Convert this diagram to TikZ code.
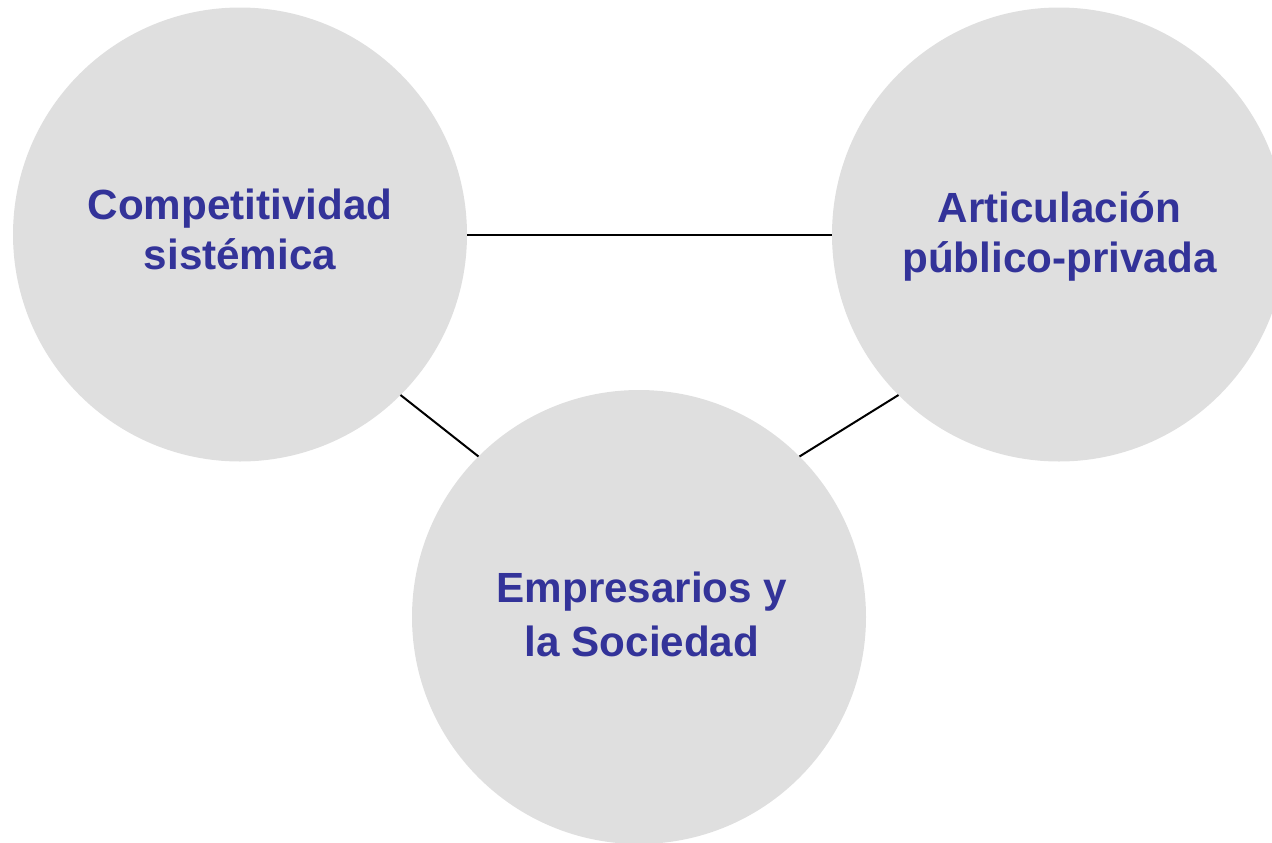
\documentclass[tikz,border=0pt]{standalone}
\usepackage{fontspec}
\setmainfont{Liberation Sans}
\definecolor{txtblue}{RGB}{51,51,153}
\definecolor{discgray}{RGB}{223,223,223}
\begin{document}
\begin{tikzpicture}[x=0.75pt,y=-0.75pt,
  disc/.style={circle, fill=discgray, draw=none, minimum size=340.5pt, inner sep=0pt, outer sep=0pt},
  lbl/.style={text=txtblue, font=\fontsize{31.65pt}{37.5pt}\selectfont\bfseries, align=center, inner sep=0pt},
  link/.style={draw=black, line width=1.5pt}]
\clip (0,0) rectangle (1272,843);
\node[disc] (L) at (240,234.5) {};
\node[disc] (R) at (1059,234.5) {};
\node[disc] (B) at (639,617) {};
\node[lbl] (Lt) at (240,229) {Competitividad\\sistémica};
\node[lbl] (Rt) at (1059.5,236.5) {Articulación\\público-privada};
\node[lbl, font=\fontsize{31.65pt}{40pt}\selectfont\bfseries] (Bt) at (642,614.3) {Empresarios y\\la Sociedad};
\draw[link] (L.east) -- (R.west);
\draw[link] (L.-45) -- (B.135);
\draw[link] (R.225) -- (B.45);
\end{tikzpicture}
\end{document}
